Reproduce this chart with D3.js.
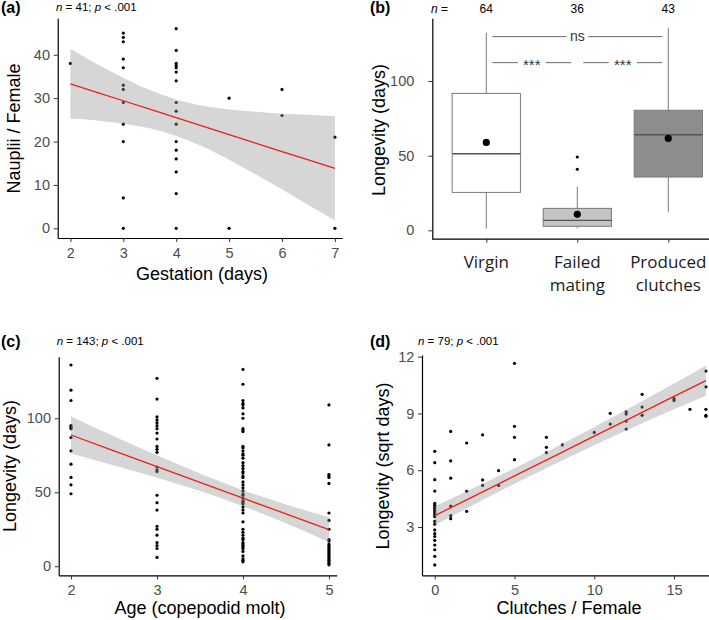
<!DOCTYPE html>
<html><head><meta charset="utf-8">
<script src="https://cdn.jsdelivr.net/npm/d3@7"></script>
<style>
body{margin:0;background:#fff}
svg{display:block}
text{font-family:"Liberation Sans",Arial,sans-serif}
</style>
</head><body>
<svg id="chart" width="709" height="620"></svg>
<script>
// ---------- Panel (a): Nauplii / Female vs Gestation ----------
const gestationDays = [2, 3, 4, 5, 6, 7];
const naupliiByGestation = [
  [38],
  [45, 44, 43, 39, 37, 33, 32, 29, 24, 20, 7, 0],
  [46, 41, 38, 37.5, 37, 36, 34, 29, 27, 24, 20, 18, 16, 13, 8, 0],
  [30, 0],
  [32, 26],
  [21, 0]
];
const aBandX = [2, 2.5, 3, 3.5, 4, 4.5, 5, 5.5, 6, 6.5, 7];
const aFit   = [33.3, 31.35, 29.4, 27.45, 25.5, 23.55, 21.6, 19.65, 17.7, 15.75, 13.8];
const aLower = [25.3, 24.85, 24.1, 23.05, 21.3, 18.85, 15.8, 12.45, 9.0, 5.35, 1.8];
const aUpper = [41.3, 37.85, 34.7, 31.85, 29.7, 28.25, 27.4, 26.85, 26.4, 26.15, 25.8];
const aXTicks = [2, 3, 4, 5, 6, 7];
const aYTicks = [0, 10, 20, 30, 40];

// ---------- Panel (b): Longevity by mating status ----------
const boxGroups = ["Virgin", "Failed mating", "Produced clutches"];
const boxLabelLines = [["Virgin"], ["Failed", "mating"], ["Produced", "clutches"]];
const boxN = [64, 36, 43];
const boxWhiskerLow = [1.1, 1.3, 12.3];
const boxQ1 = [25.4, 2.7, 35.7];
const boxMedian = [51.3, 6.7, 64.0];
const boxQ3 = [91.7, 14.7, 80.4];
const boxWhiskerHigh = [132.3, 29.2, 135.5];
const boxMean = [58.9, 10.7, 61.6];
const boxOutliers = [[], [40.9, 49.1], []];
const boxFill = ["#ffffff", "#c4c4c4", "#8d8d8d"];
const sigFrom = [0, 0, 1];
const sigTo = [2, 1, 2];
const sigLabel = ["ns", "***", "***"];
const sigY = [129.7, 112.3, 112.3];
const bYTicks = [0, 50, 100];

// ---------- Panel (c): Longevity vs Age ----------
const ageMolt = [2, 3, 4, 5];
const longevityByAge = [
  [136, 119, 112, 95, 94, 93, 87, 78, 69, 60, 55, 49],
  [127, 113, 101, 99, 97, 95, 93, 90, 86, 81, 79, 77, 67, 65, 64, 48, 43, 38, 27, 25, 21, 16, 14, 12, 6],
  [133, 123, 112, 110, 109, 107, 103, 100, 93, 92, 91, 81, 80, 78, 76, 75, 73, 70, 68, 66, 64, 63, 61, 60, 57, 55, 53, 51, 49, 48, 46, 44, 43, 42, 40, 38, 36, 30, 25, 23, 21, 19, 18, 16, 15, 14, 13, 12, 10, 7, 5, 4, 3],
  [109, 82, 62, 61, 60, 56, 36, 31, 25, 18, 17, 15, 14, 13, 12, 11, 10, 9, 8, 7, 6, 5, 4, 3, 2, 1]
];
const cBandX = [2, 2.5, 3, 3.5, 4, 4.5, 5];
const cFit   = [88.7, 78.0, 67.4, 56.7, 46.0, 35.4, 24.7];
const cLower = [76.2, 68.1, 59.8, 50.8, 40.6, 29.0, 16.3];
const cUpper = [101.2, 87.9, 75.0, 62.6, 51.4, 41.8, 33.1];
const cXTicks = [2, 3, 4, 5];
const cYTicks = [0, 50, 100];

// ---------- Panel (d): sqrt Longevity vs Clutches ----------
const clutches = [0, 1, 2, 3, 4, 5, 7, 8, 10, 11, 12, 13, 15, 16, 17];
const sqrtLongevityByClutches = [
  [7.0, 6.4, 5.5, 4.9, 4.25, 4.15, 4.05, 3.95, 3.85, 3.75, 3.65, 3.55, 3.3, 3.15, 2.85, 2.65, 2.5, 2.3, 2.05, 1.8, 1.45, 1.0],
  [8.05, 6.5, 5.58, 4.1, 3.6, 3.44],
  [7.44, 4.89, 3.83],
  [7.87, 5.49, 5.2],
  [5.98, 5.2],
  [11.65, 8.32, 7.74, 6.56],
  [7.74, 7.21, 6.93],
  [7.34],
  [8.0],
  [9.01, 8.44],
  [9.09, 8.97, 8.6, 8.18],
  [10.01, 9.34, 8.9],
  [9.78, 9.69],
  [9.22],
  [11.24, 10.41, 9.22, 8.9, 8.85]
];
const dBandX = [0, 2.5, 5, 7.5, 10, 12.5, 15, 17];
const dFit   = [3.6, 4.65, 5.7, 6.75, 7.8, 8.85, 9.9, 10.74];
const dLower = [3.1, 4.21, 5.29, 6.32, 7.32, 8.28, 9.22, 9.94];
const dUpper = [4.1, 5.09, 6.11, 7.18, 8.28, 9.42, 10.58, 11.54];
const dXTicks = [0, 5, 10, 15];
const dYTicks = [3, 6, 9, 12];

// ================= drawing =================
const svg = d3.select("#chart");
svg.append("rect").attr("width", 709).attr("height", 620).attr("fill", "#fff");

const TICK_FONT = 14.5, TITLE_FONT = 18;
const intFmt = d3.format("d");

function styleAxis(g) {
  g.attr("font-family", '"Liberation Sans",Arial,sans-serif').attr("font-size", TICK_FONT);
  g.select(".domain").attr("stroke", "#000").attr("stroke-width", 1.2);
  g.selectAll(".tick line").attr("stroke", "#333").attr("stroke-width", 1);
  g.selectAll(".tick text").attr("fill", "#4d4d4d");
}

function header(x, y, tag, nx, nText) {
  svg.append("text").attr("x", x).attr("y", y).attr("font-weight", "bold")
    .attr("font-size", 16).attr("fill", "#000").text(tag);
  if (nText) {
    const t = svg.append("text").attr("x", nx).attr("y", y - 2).attr("font-size", 11.5).attr("fill", "#000");
    t.append("tspan").attr("font-style", "italic").text("n");
    t.append("tspan").text(" = " + nText[0] + "; ");
    t.append("tspan").attr("font-style", "italic").text("p");
    t.append("tspan").text(" < .001");
  }
}

function scatterPanel(o) {
  const g = svg.append("g");
  const x = d3.scaleLinear().domain(o.xDomain).range(o.xRange);
  const y = d3.scaleLinear().domain(o.yDomain).range(o.yRange);
  const pts = [];
  o.xs.forEach((xv, i) => o.ys[i].forEach(v => pts.push([xv, v])));
  g.selectAll("circle.pt").data(pts).join("circle").attr("class", "pt")
    .attr("cx", d => x(d[0])).attr("cy", d => y(d[1])).attr("r", 1.6).attr("fill", "#000");
  const band = o.bandX.map((bx, i) => ({x: bx, lo: o.lower[i], hi: o.upper[i], fit: o.fit[i]}));
  g.append("path").datum(band)
    .attr("d", d3.area().x(d => x(d.x)).y0(d => y(d.lo)).y1(d => y(d.hi)).curve(d3.curveMonotoneX))
    .attr("fill", "#999999").attr("fill-opacity", 0.4);
  g.append("path").datum(band)
    .attr("d", d3.line().x(d => x(d.x)).y(d => y(d.fit)))
    .attr("fill", "none").attr("stroke", "#e8211d").attr("stroke-width", 1.3);
  g.append("g").attr("transform", `translate(0,${o.yRange[0]})`)
    .call(d3.axisBottom(x).tickValues(o.xTicks).tickFormat(intFmt).tickSize(4).tickSizeOuter(0).tickPadding(5.5))
    .call(styleAxis);
  g.append("g").attr("transform", `translate(${o.xRange[0]},0)`)
    .call(d3.axisLeft(y).tickValues(o.yTicks).tickFormat(intFmt).tickSize(4).tickSizeOuter(0).tickPadding(3.7))
    .call(styleAxis);
  svg.append("text").attr("x", o.xTitlePos[0]).attr("y", o.xTitlePos[1]).attr("text-anchor", "middle")
    .attr("font-size", TITLE_FONT).attr("fill", "#000").text(o.xTitle);
  svg.append("text").attr("transform", `translate(${o.yTitlePos[0]},${o.yTitlePos[1]}) rotate(-90)`)
    .attr("text-anchor", "middle").attr("font-size", TITLE_FONT).attr("fill", "#000").text(o.yTitle);
}

// Panel (a)
scatterPanel({
  xDomain: [1.76, 7.14], xRange: [57.7, 342.3],
  yDomain: [-2.23, 48.4], yRange: [238, 18.3],
  xs: gestationDays, ys: naupliiByGestation,
  bandX: aBandX, fit: aFit, lower: aLower, upper: aUpper,
  xTicks: aXTicks, yTicks: aYTicks,
  xTitle: "Gestation (days)", xTitlePos: [202, 279.5],
  yTitle: "Nauplii / Female", yTitlePos: [20, 128.5]
});
header(1, 13, "(a)", 56, [41]);

// Panel (c)
scatterPanel({
  xDomain: [1.857, 5.09], xRange: [58.7, 336.7],
  yDomain: [-6.1, 141.6], yRange: [575.3, 356.7],
  xs: ageMolt, ys: longevityByAge,
  bandX: cBandX, fit: cFit, lower: cLower, upper: cUpper,
  xTicks: cXTicks, yTicks: cYTicks,
  xTitle: "Age (copepodid molt)", xTitlePos: [200, 613.5],
  yTitle: "Longevity (days)", yTitlePos: [15.5, 466]
});
header(1, 347, "(c)", 56.7, [143]);

// Panel (d)
scatterPanel({
  xDomain: [-0.8, 17.2], xRange: [422, 709.1],
  yDomain: [0.45, 12.09], yRange: [575.3, 355],
  xs: clutches, ys: sqrtLongevityByClutches,
  bandX: dBandX, fit: dFit, lower: dLower, upper: dUpper,
  xTicks: dXTicks, yTicks: dYTicks,
  xTitle: "Clutches / Female", xTitlePos: [569, 613.5],
  yTitle: "Longevity (sqrt days)", yTitlePos: [388.5, 466]
});
header(370, 347, "(d)", 418, [79]);

// Panel (b) boxplot
(function () {
  const g = svg.append("g");
  const x = d3.scalePoint().domain(boxGroups).range([431.7, 722.9]).padding(0.6);
  const y = d3.scaleLinear().domain([-5.6, 142]).range([238.7, 18.3]);
  const bw = x.step() * 0.75;
  const boxes = boxGroups.map((k, i) => ({
    k, lo: boxWhiskerLow[i], q1: boxQ1[i], med: boxMedian[i], q3: boxQ3[i],
    hi: boxWhiskerHigh[i], mean: boxMean[i], out: boxOutliers[i], fill: boxFill[i]
  }));
  const bg = g.selectAll("g.box").data(boxes).join("g").attr("class", "box");
  const boxStroke = "#7a7a7a";
  bg.append("line").attr("x1", d => x(d.k)).attr("x2", d => x(d.k))
    .attr("y1", d => y(d.hi)).attr("y2", d => y(d.q3)).attr("stroke", boxStroke).attr("stroke-width", 1);
  bg.append("line").attr("x1", d => x(d.k)).attr("x2", d => x(d.k))
    .attr("y1", d => y(d.q1)).attr("y2", d => y(d.lo)).attr("stroke", boxStroke).attr("stroke-width", 1);
  bg.append("rect").attr("x", d => x(d.k) - bw / 2).attr("width", bw)
    .attr("y", d => y(d.q3)).attr("height", d => y(d.q1) - y(d.q3))
    .attr("fill", d => d.fill).attr("stroke", boxStroke).attr("stroke-width", 1);
  bg.append("line").attr("x1", d => x(d.k) - bw / 2).attr("x2", d => x(d.k) + bw / 2)
    .attr("y1", d => y(d.med)).attr("y2", d => y(d.med)).attr("stroke", "#555").attr("stroke-width", 1.4);
  bg.selectAll("circle.out").data(d => d.out.map(v => ({k: d.k, v}))).join("circle").attr("class", "out")
    .attr("cx", d => x(d.k)).attr("cy", d => y(d.v)).attr("r", 1.6).attr("fill", "#000");
  bg.append("circle").attr("cx", d => x(d.k)).attr("cy", d => y(d.mean)).attr("r", 3.6).attr("fill", "#000");

  const inset = 6;
  sigLabel.forEach((lab, i) => {
    const x1 = x(boxGroups[sigFrom[i]]) + inset, x2 = x(boxGroups[sigTo[i]]) - inset;
    const yy = y(sigY[i]), mid = (x1 + x2) / 2;
    const half = lab === "ns" ? 11 : 14;
    g.append("line").attr("x1", x1).attr("x2", mid - half).attr("y1", yy).attr("y2", yy)
      .attr("stroke", "#555").attr("stroke-width", 0.9);
    g.append("line").attr("x1", mid + half).attr("x2", x2).attr("y1", yy).attr("y2", yy)
      .attr("stroke", "#555").attr("stroke-width", 0.9);
    g.append("text").attr("x", mid).attr("y", lab === "ns" ? yy + 4.5 : yy + 7)
      .attr("text-anchor", "middle").attr("font-size", lab === "ns" ? 14 : 15).attr("fill", "#333").text(lab);
  });

  g.append("g").attr("transform", "translate(0,238.7)")
    .call(d3.axisBottom(x).tickSize(4).tickSizeOuter(0).tickFormat(() => ""))
    .call(styleAxis);
  g.append("g").attr("transform", "translate(432.3,0)")
    .call(d3.axisLeft(y).tickValues(bYTicks).tickFormat(intFmt).tickSize(4).tickSizeOuter(0).tickPadding(14))
    .call(styleAxis);

  boxGroups.forEach((k, i) => {
    boxLabelLines[i].forEach((ln, j) => {
      g.append("text").attr("x", x(k)).attr("y", 268 + j * 22.5).attr("text-anchor", "middle")
        .style("font-family", '"Open Sans","Noto Sans",sans-serif').attr("font-size", 17)
        .attr("fill", "#1a1a1a").text(ln);
    });
    g.append("text").attr("x", x(k)).attr("y", 12.5).attr("text-anchor", "middle")
      .attr("font-size", 12).attr("fill", "#000").text(boxN[i]);
  });
  const nt = g.append("text").attr("x", 431).attr("y", 12.5).attr("font-size", 12).attr("fill", "#000");
  nt.append("tspan").attr("font-style", "italic").text("n");
  nt.append("tspan").text(" =");

  svg.append("text").attr("transform", "translate(384.5,130) rotate(-90)")
    .attr("text-anchor", "middle").attr("font-size", TITLE_FONT).attr("fill", "#000").text("Longevity (days)");
  header(370, 13, "(b)", 0, null);
})();
</script>
</body></html>
